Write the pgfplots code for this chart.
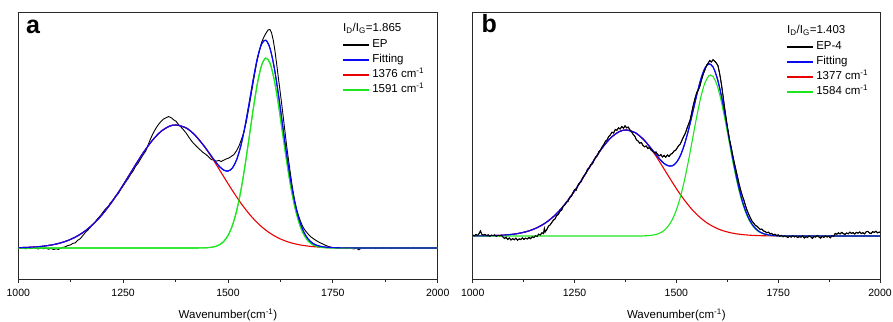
\documentclass[border=0pt]{standalone}
\usepackage{pgfplots}
\pgfplotsset{compat=1.18}
\usepackage{pgfplotstable}
\usepackage{fontspec}
\setmainfont{Liberation Sans}
\definecolor{cRed}{RGB}{235,0,0}
\definecolor{cGreen}{RGB}{30,230,30}
\definecolor{cBlue}{RGB}{10,10,240}
\definecolor{cAxis}{RGB}{40,40,40}

% ---------- panel a data (intensity above baseline) ----------
\pgfplotstableread[row sep=\\]{x y\\
1000 0.5\\ 1006 -0.5\\ 1012 0.3\\ 1018 -0.8\\ 1024 0.2\\ 1030 -0.6\\ 1036 0.4\\ 1042 -0.3\\ 1048 -1.0\\ 1054 0.2\\ 1060 -0.7\\ 1066 -0.2\\ 1072 -1.2\\ 1078 -0.4\\ 1084 -1.5\\ 1090 -0.8\\ 1096 -1.4\\ 1100 -0.3\\ 1106 0.6\\ 1112 1.2\\ 1118 2.4\\ 1124 3.0\\ 1130 4.6\\ 1136 5.2\\ 1142 7.8\\ 1148 9.4\\ 1154 12.5\\ 1160 15.6\\ 1166 18.0\\ 1172 20.8\\ 1178 23.9\\ 1184 26.5\\ 1190 29.8\\ 1196 32.4\\ 1202 35.9\\ 1208 39.1\\ 1214 41.5\\ 1220 45.3\\ 1226 48.2\\ 1232 51.9\\ 1238 54.0\\ 1244 58.4\\ 1250 62.1\\ 1256 66.0\\ 1262 69.5\\ 1268 73.8\\ 1274 77.2\\ 1280 81.9\\ 1286 85.0\\ 1292 89.4\\ 1298 93.5\\ 1304 97.0\\ 1310 103.5\\ 1316 109.8\\ 1322 115.2\\ 1328 119.6\\ 1334 123.4\\ 1340 126.5\\ 1346 128.9\\ 1352 130.2\\ 1358 131.4\\ 1362 130.8\\ 1366 129.9\\ 1370 128.2\\ 1376 126.8\\ 1382 123.5\\ 1388 120.9\\ 1394 118.1\\ 1400 115.0\\ 1406 111.3\\ 1412 107.6\\ 1418 104.6\\ 1424 102.0\\ 1430 99.5\\ 1436 97.3\\ 1442 95.0\\ 1448 93.4\\ 1454 91.0\\ 1460 88.5\\ 1466 87.9\\ 1472 86.8\\ 1478 87.6\\ 1484 86.5\\ 1490 87.9\\ 1496 89.1\\ 1502 90.0\\ 1508 91.6\\ 1514 93.4\\ 1520 97.0\\ 1526 101.8\\ 1532 108.5\\ 1538 116.0\\ 1544 127.0\\ 1550 141.0\\ 1556 155.5\\ 1562 170.2\\ 1568 184.5\\ 1574 196.0\\ 1580 205.5\\ 1586 211.4\\ 1592 215.8\\ 1596 218.2\\ 1600 218.5\\ 1604 215.0\\ 1608 207.5\\ 1612 197.0\\ 1616 184.0\\ 1620 170.5\\ 1624 157.5\\ 1628 144.0\\ 1632 130.0\\ 1636 115.8\\ 1640 101.5\\ 1644 89.0\\ 1648 77.0\\ 1652 65.0\\ 1656 54.5\\ 1660 45.5\\ 1664 38.2\\ 1668 32.5\\ 1672 27.8\\ 1676 23.6\\ 1680 20.0\\ 1686 16.5\\ 1692 13.5\\ 1698 11.0\\ 1704 9.2\\ 1710 7.5\\ 1716 6.0\\ 1722 4.8\\ 1728 3.6\\ 1734 2.4\\ 1740 1.5\\ 1746 0.8\\ 1752 0.3\\ 1758 -0.3\\ 1764 0.4\\ 1770 -0.5\\ 1776 0.2\\ 1782 -0.6\\ 1788 0.1\\ 1794 -0.4\\ 1800 -0.9\\ 1806 -0.2\\ 1812 -1.8\\ 1816 -0.6\\ 1822 0.3\\ 1828 -0.5\\ 1834 0.2\\ 1840 -0.3\\ 1846 0.4\\ 1852 -0.6\\ 1858 0.5\\ 1864 -0.2\\ 1870 0.6\\ 1876 -0.4\\ 1882 0.3\\ 1888 -0.7\\ 1894 0.2\\ 1900 -0.3\\ 1906 0.5\\ 1912 -0.4\\ 1918 0.3\\ 1924 -0.5\\ 1930 0.4\\ 1936 -0.2\\ 1942 0.6\\ 1948 -0.4\\ 1954 0.2\\ 1960 -0.3\\ 1966 0.5\\ 1972 -0.2\\ 1978 0.4\\ 1984 -0.3\\ 1990 0.2\\ 1996 -0.2\\ 2000 0.1\\
}\epA

\pgfplotstableread[row sep=\\]{x y\\
1000 0.32\\ 1020 0.59\\ 1040 1.06\\ 1060 1.84\\ 1080 3.08\\ 1100 4.99\\ 1120 7.80\\ 1140 11.80\\ 1160 17.27\\ 1180 24.42\\ 1200 33.4\\ 1220 44.2\\ 1240 56.5\\ 1260 69.8\\ 1280 83.5\\ 1300 96.5\\ 1320 107.8\\ 1340 116.5\\ 1360 121.7\\ 1376 123.0\\ 1400 120.1\\ 1420 113.4\\ 1440 103.5\\ 1450 97.7\\ 1460 91.4\\ 1470 84.8\\ 1480 78.0\\ 1490 71.2\\ 1500 64.4\\ 1510 57.8\\ 1520 51.4\\ 1530 45.3\\ 1540 39.7\\ 1550 34.4\\ 1560 29.6\\ 1570 25.2\\ 1580 21.3\\ 1590 17.9\\ 1600 14.9\\ 1610 12.3\\ 1620 10.0\\ 1630 8.14\\ 1640 6.55\\ 1650 5.22\\ 1660 4.13\\ 1670 3.24\\ 1680 2.52\\ 1690 1.94\\ 1700 1.48\\ 1710 1.12\\ 1720 0.85\\ 1730 0.63\\ 1740 0.47\\ 1760 0.25\\ 1800 0.05\\ 1900 0\\ 2000 0\\
}\redA

\pgfplotstableread[row sep=\\]{x y\\
1000 0\\ 1200 0\\ 1400 0\\ 1430 0.05\\ 1440 0.12\\ 1450 0.28\\ 1460 0.67\\ 1470 1.54\\ 1480 3.31\\ 1490 6.65\\ 1500 12.49\\ 1510 21.98\\ 1520 36.2\\ 1530 55.9\\ 1540 80.8\\ 1550 109.3\\ 1560 138.5\\ 1570 164.4\\ 1580 182.6\\ 1590 189.9\\ 1600 185.0\\ 1610 168.7\\ 1620 144.1\\ 1630 115.2\\ 1640 86.3\\ 1650 60.5\\ 1660 39.7\\ 1670 24.4\\ 1680 14.06\\ 1690 7.58\\ 1700 3.82\\ 1710 1.81\\ 1720 0.80\\ 1730 0.33\\ 1740 0.13\\ 1760 0.02\\ 1800 0\\ 2000 0\\
}\greenA

\pgfplotstableread[row sep=\\]{x y\\
1000 0.32\\ 1020 0.59\\ 1040 1.06\\ 1060 1.84\\ 1080 3.08\\ 1100 4.99\\ 1120 7.80\\ 1140 11.80\\ 1160 17.27\\ 1180 24.42\\ 1200 33.4\\ 1220 44.2\\ 1240 56.5\\ 1260 69.8\\ 1280 83.5\\ 1300 96.5\\ 1320 107.8\\ 1340 116.5\\ 1360 121.7\\ 1376 123.0\\ 1400 120.1\\ 1420 113.4\\ 1440 103.6\\ 1450 98.0\\ 1460 92.1\\ 1470 86.3\\ 1480 81.3\\ 1490 77.9\\ 1500 76.9\\ 1510 79.8\\ 1520 87.6\\ 1530 101.2\\ 1540 120.5\\ 1550 143.7\\ 1560 168.1\\ 1570 189.6\\ 1580 203.9\\ 1590 207.8\\ 1600 199.9\\ 1610 181.0\\ 1620 154.1\\ 1630 123.3\\ 1640 92.9\\ 1650 65.7\\ 1660 43.8\\ 1670 27.6\\ 1680 16.6\\ 1690 9.5\\ 1700 5.3\\ 1710 2.9\\ 1720 1.65\\ 1730 0.96\\ 1740 0.6\\ 1760 0.25\\ 1800 0.05\\ 1900 0\\ 2000 0\\
}\fitA

% ---------- panel b data ----------
\pgfplotstableread[row sep=\\]{x y\\
1000 1.0\\ 1004 0.2\\ 1008 1.5\\ 1012 0.5\\ 1016 2.5\\ 1019 5.0\\ 1022 2.0\\ 1026 0.8\\ 1030 1.6\\ 1034 0.4\\ 1038 1.2\\ 1042 -0.2\\ 1046 0.9\\ 1050 0.3\\ 1054 1.1\\ 1058 -0.4\\ 1062 0.7\\ 1066 0.1\\ 1070 0.6\\ 1074 -0.8\\ 1078 -2.5\\ 1082 -1.2\\ 1086 -3.5\\ 1090 -2.0\\ 1094 -4.0\\ 1098 -2.6\\ 1102 -3.8\\ 1106 -2.2\\ 1110 -4.2\\ 1114 -2.9\\ 1118 -3.6\\ 1122 -1.8\\ 1126 -3.4\\ 1130 -2.1\\ 1134 -3.0\\ 1138 -1.5\\ 1142 -2.7\\ 1146 -0.8\\ 1150 -1.6\\ 1154 0.3\\ 1158 -0.5\\ 1162 1.8\\ 1166 1.0\\ 1170 3.2\\ 1174 2.4\\ 1176 7.5\\ 1178 4.2\\ 1182 6.5\\ 1186 9.8\\ 1190 11.0\\ 1194 13.5\\ 1198 15.8\\ 1202 17.0\\ 1206 20.5\\ 1210 21.4\\ 1214 24.8\\ 1218 25.5\\ 1222 29.8\\ 1226 31.0\\ 1230 33.9\\ 1234 34.6\\ 1238 38.8\\ 1242 39.5\\ 1246 43.2\\ 1250 46.5\\ 1254 45.8\\ 1258 50.6\\ 1262 53.0\\ 1266 54.1\\ 1270 58.2\\ 1274 60.5\\ 1278 62.8\\ 1282 66.9\\ 1286 68.0\\ 1290 71.5\\ 1294 72.2\\ 1298 75.8\\ 1302 78.9\\ 1306 80.4\\ 1310 84.5\\ 1314 86.0\\ 1318 89.2\\ 1322 91.5\\ 1326 94.8\\ 1330 96.1\\ 1334 99.6\\ 1338 101.2\\ 1342 103.8\\ 1346 103.0\\ 1350 106.5\\ 1354 105.7\\ 1358 108.2\\ 1362 107.0\\ 1366 109.5\\ 1370 107.8\\ 1374 110.2\\ 1378 108.1\\ 1382 108.9\\ 1386 106.0\\ 1390 104.2\\ 1394 101.5\\ 1398 99.8\\ 1402 96.2\\ 1406 95.0\\ 1410 92.8\\ 1414 93.5\\ 1418 90.6\\ 1422 89.2\\ 1426 90.1\\ 1430 87.5\\ 1434 88.4\\ 1438 85.9\\ 1442 84.6\\ 1446 83.2\\ 1450 84.0\\ 1454 81.5\\ 1458 80.2\\ 1462 81.4\\ 1466 79.0\\ 1470 80.5\\ 1474 78.8\\ 1478 81.0\\ 1482 79.6\\ 1486 81.8\\ 1490 82.5\\ 1494 84.9\\ 1498 85.6\\ 1502 88.2\\ 1506 90.5\\ 1510 92.3\\ 1514 96.0\\ 1518 99.5\\ 1522 102.8\\ 1526 107.5\\ 1530 111.9\\ 1534 116.2\\ 1538 124.0\\ 1542 131.5\\ 1546 137.8\\ 1550 143.5\\ 1554 146.0\\ 1558 150.2\\ 1562 156.5\\ 1566 161.8\\ 1570 166.0\\ 1574 170.5\\ 1578 172.8\\ 1582 175.5\\ 1586 174.0\\ 1590 176.2\\ 1594 174.8\\ 1598 173.0\\ 1602 170.5\\ 1606 163.0\\ 1610 153.5\\ 1614 142.0\\ 1618 129.5\\ 1622 118.0\\ 1626 107.5\\ 1630 97.0\\ 1634 90.0\\ 1638 81.5\\ 1642 73.8\\ 1646 66.5\\ 1650 59.5\\ 1654 52.0\\ 1658 45.8\\ 1662 40.2\\ 1666 35.5\\ 1670 30.0\\ 1674 25.2\\ 1678 21.5\\ 1682 17.8\\ 1686 14.6\\ 1690 12.9\\ 1694 10.5\\ 1698 9.8\\ 1702 8.2\\ 1706 6.5\\ 1710 6.9\\ 1714 5.0\\ 1718 4.6\\ 1722 3.2\\ 1726 3.8\\ 1730 2.1\\ 1734 2.6\\ 1738 1.0\\ 1742 1.8\\ 1746 0.4\\ 1750 1.2\\ 1754 -0.3\\ 1758 0.6\\ 1762 -0.8\\ 1766 0.2\\ 1770 -0.6\\ 1774 -1.4\\ 1778 -0.2\\ 1782 -1.0\\ 1786 0.4\\ 1790 -0.9\\ 1794 -0.1\\ 1798 -1.6\\ 1802 -0.5\\ 1806 -1.2\\ 1810 0.3\\ 1814 -2.0\\ 1818 -0.6\\ 1822 -1.5\\ 1826 0.2\\ 1830 -0.8\\ 1834 -2.4\\ 1838 -0.4\\ 1842 -1.1\\ 1846 0.5\\ 1850 -0.9\\ 1854 -2.2\\ 1858 -0.3\\ 1862 -1.4\\ 1866 0.1\\ 1870 -1.0\\ 1874 -0.2\\ 1878 -1.8\\ 1882 0.4\\ 1886 -0.5\\ 1890 2.6\\ 1894 1.8\\ 1898 3.2\\ 1902 2.0\\ 1906 3.6\\ 1910 2.4\\ 1914 1.6\\ 1918 3.0\\ 1922 2.2\\ 1926 3.8\\ 1930 2.6\\ 1934 3.4\\ 1938 2.0\\ 1942 3.6\\ 1946 2.8\\ 1950 4.0\\ 1954 2.5\\ 1958 3.3\\ 1962 2.1\\ 1966 4.2\\ 1970 4.6\\ 1974 3.0\\ 1978 2.4\\ 1982 4.4\\ 1986 3.6\\ 1990 4.8\\ 1994 3.1\\ 1998 3.9\\ 2000 3.5\\
}\epB

\pgfplotstableread[row sep=\\]{x y\\
1000 0.06\\ 1020 0.12\\ 1040 0.25\\ 1060 0.51\\ 1080 0.98\\ 1100 1.80\\ 1120 3.17\\ 1140 5.36\\ 1160 8.68\\ 1180 13.47\\ 1200 20.06\\ 1220 28.6\\ 1240 39.1\\ 1260 51.2\\ 1280 64.3\\ 1300 77.3\\ 1320 89.2\\ 1340 98.6\\ 1360 104.4\\ 1377 106.0\\ 1400 103.1\\ 1420 96.1\\ 1430 91.3\\ 1440 85.8\\ 1450 79.9\\ 1460 73.5\\ 1470 66.9\\ 1480 60.3\\ 1490 53.8\\ 1500 47.4\\ 1510 41.4\\ 1520 35.8\\ 1530 30.6\\ 1540 25.8\\ 1550 21.6\\ 1560 17.9\\ 1570 14.6\\ 1580 11.9\\ 1590 9.5\\ 1600 7.55\\ 1610 5.92\\ 1620 4.60\\ 1630 3.53\\ 1640 2.69\\ 1650 2.02\\ 1660 1.50\\ 1670 1.11\\ 1680 0.81\\ 1700 0.41\\ 1720 0.20\\ 1740 0.10\\ 1760 0.05\\ 1800 0\\ 2000 0\\
}\redB

\pgfplotstableread[row sep=\\]{x y\\
1000 0\\ 1200 0\\ 1400 0\\ 1420 0.16\\ 1430 0.35\\ 1440 0.76\\ 1450 1.56\\ 1460 3.04\\ 1470 5.62\\ 1480 9.86\\ 1490 16.4\\ 1500 26.0\\ 1510 39.1\\ 1520 55.9\\ 1530 75.8\\ 1540 97.6\\ 1550 119.4\\ 1560 138.7\\ 1570 153.1\\ 1580 160.3\\ 1584 161.0\\ 1590 159.5\\ 1600 150.7\\ 1610 135.2\\ 1620 115.2\\ 1630 93.2\\ 1640 71.6\\ 1650 52.3\\ 1660 36.2\\ 1670 23.8\\ 1680 14.9\\ 1690 8.83\\ 1700 4.99\\ 1710 2.67\\ 1720 1.36\\ 1730 0.65\\ 1740 0.30\\ 1750 0.13\\ 1770 0.02\\ 1800 0\\ 2000 0\\
}\greenB

\pgfplotstableread[row sep=\\]{x y\\
1000 0.06\\ 1020 0.12\\ 1040 0.25\\ 1060 0.51\\ 1080 0.98\\ 1100 1.80\\ 1120 3.17\\ 1140 5.36\\ 1160 8.68\\ 1180 13.47\\ 1200 20.06\\ 1220 28.6\\ 1240 39.1\\ 1260 51.2\\ 1280 64.3\\ 1300 77.3\\ 1320 89.2\\ 1340 98.6\\ 1360 104.4\\ 1377 106.0\\ 1400 103.1\\ 1420 96.3\\ 1430 91.6\\ 1440 86.6\\ 1450 81.5\\ 1460 76.5\\ 1470 72.5\\ 1480 70.2\\ 1490 70.2\\ 1500 73.4\\ 1510 80.5\\ 1520 91.7\\ 1530 106.4\\ 1540 123.4\\ 1550 141.0\\ 1560 156.6\\ 1570 167.7\\ 1580 172.2\\ 1590 169.0\\ 1600 158.3\\ 1610 141.1\\ 1620 119.8\\ 1630 96.7\\ 1640 74.3\\ 1650 54.3\\ 1660 37.7\\ 1670 24.9\\ 1680 15.7\\ 1690 9.4\\ 1700 5.4\\ 1710 3.0\\ 1720 1.56\\ 1730 0.8\\ 1740 0.4\\ 1760 0.1\\ 1800 0\\ 2000 0\\
}\fitB

\pgfplotsset{
  ramanaxis/.style={
    scale only axis, height=267bp,
    xmin=1000, xmax=2000,
    xtick={1000,1250,1500,1750,2000},
    minor x tick num=1,
    xtick pos=left, tick align=outside,
    ytick=\empty,
    major tick length=4bp, minor tick length=2.5bp,
    axis line style={line width=0.8bp, draw=cAxis},
    every tick/.style={line width=0.8bp, draw=cAxis},
    tick label style={font=\fontsize{10.5bp}{12bp}\selectfont},
    xticklabel style={yshift=-3bp},
    /pgf/number format/assume math mode=true,
    /pgf/number format/set thousands separator={},
    xlabel={Wavenumber(cm\textsuperscript{-1})},
    xlabel style={font=\fontsize{11.5bp}{13bp}\selectfont, at={(axis description cs:0.5,0)}, anchor=center, yshift=-36bp},
    legend cell align=left,
    legend style={draw=none, fill=none, inner sep=0pt, font=\fontsize{11.5bp}{13bp}\selectfont,
      row sep=4bp,
      nodes={inner sep=0pt, text height=8.5bp, text depth=2.5bp},
      /tikz/every odd column/.append style={column sep=3bp}},
    every axis plot/.append style={line width=1.1bp},
  },
  limg/.style={legend image code/.code={\fill[#1] (0bp,-0.5bp) rectangle (25bp,0.5bp);}},
}

\begin{document}
\begin{tikzpicture}
\useasboundingbox (0,0) rectangle (893bp,322bp);

% ---------- panel a ----------
\begin{axis}[ramanaxis, at={(18.3bp,43bp)}, anchor=south west, width=419.4bp,
  ymin=-31, ymax=236,
  legend style={at={(0.7742,0.899)}, anchor=north west}]
\addplot[draw=black, line width=0.9bp, limg=black] table[x=x,y=y]{\epA};
\addlegendentry{EP}
\addplot[draw=cBlue, smooth, limg=cBlue] table[x=x,y=y]{\fitA};
\addlegendentry{Fitting}
\addplot[draw=cGreen, smooth, forget plot] table[x=x,y=y]{\greenA};
\addplot[draw=cRed, smooth, limg=cRed] table[x=x,y=y]{\redA};
\addlegendentry{1376 cm\textsuperscript{-1}}
\addplot[draw=cGreen, smooth, limg=cGreen] table[x=x,y=y]{\greenA};
\addlegendentry{1591 cm\textsuperscript{-1}}
\addplot[draw=cBlue, smooth, forget plot] table[x=x,y=y]{\fitA};
\node[anchor=west, inner sep=0pt, font=\fontsize{11.5bp}{13bp}\selectfont] at (rel axis cs:0.7742,0.940) {I\textsubscript{D}/I\textsubscript{G}=1.865};
\node[inner sep=0pt, font=\fontsize{25bp}{28bp}\selectfont\bfseries] at (rel axis cs:0.035,0.944) {a};
\end{axis}

% ---------- panel b ----------
\begin{axis}[ramanaxis, at={(472.7bp,43bp)}, anchor=south west, width=407.3bp,
  ymin=-43, ymax=224,
  legend style={at={(0.7717,0.891)}, anchor=north west}]
\addplot[draw=black, line width=0.9bp, limg=black] table[x=x,y=y]{\epB};
\addlegendentry{EP-4}
\addplot[draw=cBlue, smooth, limg=cBlue] table[x=x,y=y]{\fitB};
\addlegendentry{Fitting}
\addplot[draw=cRed, smooth, limg=cRed] table[x=x,y=y]{\redB};
\addlegendentry{1377 cm\textsuperscript{-1}}
\addplot[draw=cGreen, smooth, limg=cGreen] table[x=x,y=y]{\greenB};
\addlegendentry{1584 cm\textsuperscript{-1}}
\addplot[draw=cBlue, smooth, forget plot] table[x=x,y=y]{\fitB};
\addplot[draw=black, line width=0.9bp, forget plot] table[x=x,y=y]{\epB};
\node[anchor=west, inner sep=0pt, font=\fontsize{11.5bp}{13bp}\selectfont] at (rel axis cs:0.7717,0.9326) {I\textsubscript{D}/I\textsubscript{G}=1.403};
\node[inner sep=0pt, font=\fontsize{25bp}{28bp}\selectfont\bfseries] at (rel axis cs:0.0408,0.955) {b};
\end{axis}
\end{tikzpicture}
\end{document}
